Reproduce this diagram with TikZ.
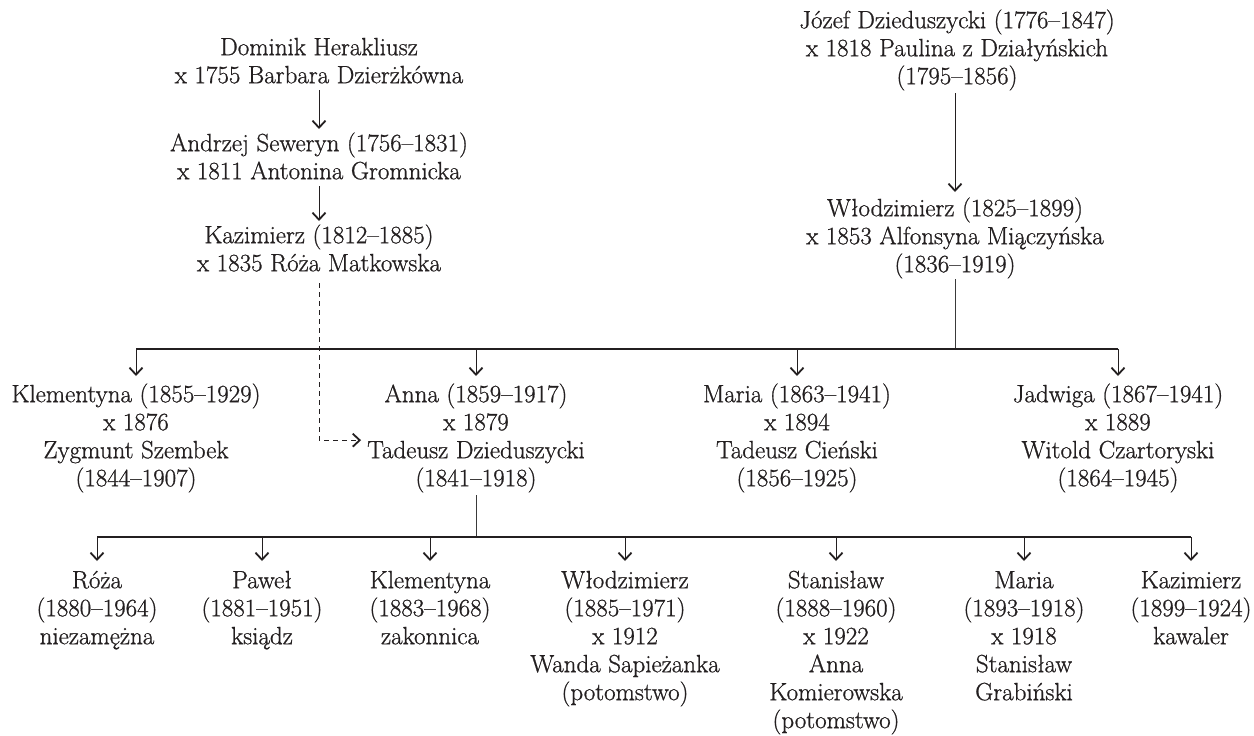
\documentclass[tikz,border=0pt]{standalone}
\usepackage{fontspec}
\setmainfont{Latin Modern Roman}[FakeBold=0.8]
\usetikzlibrary{arrows.meta}
\definecolor{ink}{HTML}{231F20}
\definecolor{wire}{HTML}{3A3A3A}
\newcommand\Tstr{\rule{0pt}{22pt}}
\newcommand\Bstr{\rule[-7pt]{0pt}{7pt}}
\begin{document}
\begin{tikzpicture}[x=1pt,y=-1pt,
 person/.style={align=center,inner sep=0pt,anchor=north,text=ink,font=\fontsize{25}{28}\selectfont},
 tipv/.style={-{Straight Barb[length=7pt,width=13pt,line width=1.8pt]}},
 arr/.style={draw=ink,line width=1pt,tipv},
 conn/.style={draw=wire,line width=0.9pt},
 bar/.style={draw=ink,line width=1.3pt},
 dashline/.style={draw=ink,line width=1pt,dash pattern=on 5pt off 4pt,tipv}]
\useasboundingbox (0,0) rectangle (1254,736);
\fill[white] (0,0) rectangle (1254,736);
% top generations
\node[person] (jo) at (957,6) {\Tstr Józef Dzieduszycki (1776–1847)\\x 1818 Paulina z Działyńskich\\(1795–1856)\Bstr};
\node[person] (wl) at (955,194) {\Tstr Włodzimierz (1825–1899)\\x 1853 Alfonsyna Miączyńska\\(1836–1919)\Bstr};
\node[person] (dh) at (319,33) {\Tstr Dominik Herakliusz\\x 1755 Barbara Dzierżkówna\Bstr};
\node[person] (as) at (319,129) {\Tstr Andrzej Seweryn (1756–1831)\\x 1811 Antonina Gromnicka\Bstr};
\node[person] (kz) at (319,221) {\Tstr Kazimierz (1812–1885)\\x 1835 Róża Matkowska\Bstr};
% second row
\node[person] (kl) at (136,380) {\Tstr Klementyna (1855–1929)\\x 1876\\Zygmunt Szembek\\(1844–1907)\Bstr};
\node[person] (an) at (476,380) {\Tstr Anna (1859–1917)\\x 1879\\Tadeusz Dzieduszycki\\(1841–1918)\Bstr};
\node[person] (ma) at (797,380) {\Tstr Maria (1863–1941)\\x 1894\\Tadeusz Cieński\\(1856–1925)\Bstr};
\node[person] (ja) at (1118,380) {\Tstr Jadwiga (1867–1941)\\x 1889\\Witold Czartoryski\\(1864–1945)\Bstr};
% third row
\node[person] (ro) at (97,566) {\Tstr Róża\\(1880–1964)\\niezamężna\Bstr};
\node[person] (pa) at (262,566) {\Tstr Paweł\\(1881–1951)\\ksiądz\Bstr};
\node[person] (km) at (430,566) {\Tstr Klementyna\\(1883–1968)\\zakonnica\Bstr};
\node[person] (wz) at (625,566) {\Tstr Włodzimierz\\(1885–1971)\\x 1912\\Wanda Sapieżanka\\(potomstwo)\Bstr};
\node[person] (st) at (836,566) {\Tstr Stanisław\\(1888–1960)\\x 1922\\Anna\\Komierowska\\(potomstwo)\Bstr};
\node[person] (mr) at (1024,566) {\Tstr Maria\\(1893–1918)\\x 1918\\Stanisław\\Grabiński\Bstr};
\node[person] (kw) at (1191,566) {\Tstr Kazimierz\\(1899–1924)\\kawaler\Bstr};
% connectors
\draw[arr] (dh.south) -- (as.north);
\draw[arr] (as.south) -- (kz.north);
\draw[arr] ([yshift=-2pt]jo.south -| wl.north) -- ([yshift=2pt]wl.north);
\coordinate (bar1) at (955,349);
\draw[conn] (wl.south) -- (bar1);
\draw[bar] (kl.north |- bar1) -- (ja.north |- bar1);
\foreach \n in {kl,an,ma,ja} \draw[arr] (\n.north |- bar1) -- ([yshift=4pt]\n.north);
\draw[dashline] ([yshift=-5pt]kz.south) |- ([xshift=-6pt,yshift=-3.5pt]an.west);
\coordinate (bar2) at (476,537);
\draw[conn] ([yshift=-2pt]an.south) -- (bar2);
\draw[bar] (ro.north |- bar2) -- (kw.north |- bar2);
\foreach \n in {ro,pa,km,wz,st,mr,kw} \draw[arr] (\n.north |- bar2) -- ([yshift=5pt]\n.north);
\end{tikzpicture}
\end{document}
